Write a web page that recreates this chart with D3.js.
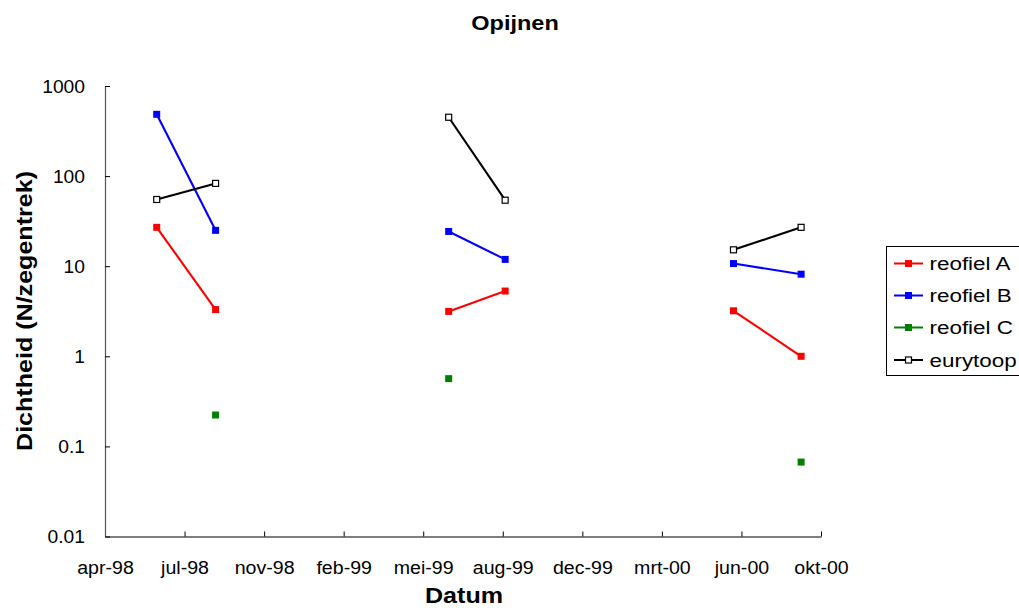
<!DOCTYPE html>
<html>
<head>
<meta charset="utf-8">
<script src="https://cdn.jsdelivr.net/npm/d3@7"></script>
<style>
  html, body { margin: 0; padding: 0; background: #fff; }
  svg { display: block; font-family: "Liberation Sans", Arial, sans-serif; }
</style>
</head>
<body>
<svg id="chart" width="1019" height="608"></svg>
<script>
// Sampling dates (fish survey campaigns) and densities per ecological group
const dates     = ["1998-06-19", "1998-09-01", "1999-06-21", "1999-08-31", "2000-06-13", "2000-09-06"];
const campaigns = [1998, 1998, 1999, 1999, 2000, 2000];
const reofielA  = [27, 3.3, 3.15, 5.3, 3.2, 1.0];
const reofielB  = [485, 25, 24.3, 11.9, 10.7, 8.15];
const reofielC  = [null, 0.223, 0.565, null, null, 0.067];
const eurytoop  = [55, 83, 450, 54, 15.2, 27];

const seriesNames = ["reofiel A", "reofiel B", "reofiel C", "eurytoop"];

// Axis definitions
const xStart = "1998-04-15";   // first tick, ticks every 100 days
const xTickStepDays = 100;
const xTickLabels = ["apr-98", "jul-98", "nov-98", "feb-99", "mei-99", "aug-99", "dec-99", "mrt-00", "jun-00", "okt-00"];
const yTickValues = [0.01, 0.1, 1, 10, 100, 1000];
const yTickLabels = ["0.01", "0.1", "1", "10", "100", "1000"];

const parse = d3.utcParse("%Y-%m-%d");
const svg = d3.select("#chart");

const plotLeft = 105, plotRight = 821, plotTop = 86, plotBottom = 536.5;
const t0 = parse(xStart);
const xTicks = xTickLabels.map((_, i) => d3.utcDay.offset(t0, i * xTickStepDays));

const x = d3.scaleUtc().domain([xTicks[0], xTicks[xTicks.length - 1]]).range([plotLeft, plotRight]);
const y = d3.scaleLog().domain([0.01, 1000]).range([plotBottom, plotTop]);

const styles = [
  { color: "#ff0000", fill: "#ff0000", values: reofielA },
  { color: "#0000ff", fill: "#0000ff", values: reofielB },
  { color: "#008000", fill: "#008000", values: reofielC },
  { color: "#000000", fill: "#ffffff", values: eurytoop }
];

// Title
svg.append("text")
  .attr("transform", "translate(515,23) scale(1.12,1)")
  .attr("text-anchor", "middle").attr("dominant-baseline", "central")
  .attr("font-size", 21).attr("font-weight", "bold").text("Opijnen");

// Axes
const xAxis = d3.axisBottom(x).tickValues(xTicks)
  .tickFormat((d, i) => xTickLabels[i]).tickSize(-5).tickSizeOuter(0).tickPadding(0);
const gx = svg.append("g").attr("transform", `translate(0,${plotBottom})`).call(xAxis);
gx.select(".domain").attr("stroke", "#000").attr("stroke-width", 1.2);
gx.selectAll(".tick line").attr("stroke", "#000");
gx.selectAll(".tick text")
  .attr("y", 0).attr("dy", 0)
  .attr("transform", "translate(0,31) scale(1.12,1)")
  .attr("dominant-baseline", "central")
  .attr("font-size", 17.5).attr("font-family", "Liberation Sans, Arial, sans-serif").attr("fill", "#000");

const yAxis = d3.axisLeft(y).tickValues(yTickValues)
  .tickFormat((d, i) => yTickLabels[i]).tickSize(-5).tickSizeOuter(0).tickPadding(0);
const gy = svg.append("g").attr("transform", `translate(${plotLeft},0)`).call(yAxis);
gy.select(".domain").attr("stroke", "#555").attr("stroke-width", 1.2);
gy.selectAll(".tick line").attr("stroke", "#000");
gy.selectAll(".tick text")
  .attr("x", 0).attr("dy", 0)
  .attr("transform", "translate(-20,0) scale(1.1,1)")
  .attr("dominant-baseline", "central").attr("text-anchor", "end")
  .attr("font-size", 17.5).attr("font-family", "Liberation Sans, Arial, sans-serif").attr("fill", "#000");

// Axis titles
svg.append("text")
  .attr("transform", "translate(464,596) scale(1.14,1)")
  .attr("text-anchor", "middle").attr("dominant-baseline", "central")
  .attr("font-size", 22).attr("font-weight", "bold").text("Datum");
svg.append("text")
  .attr("transform", "translate(25,311) rotate(-90) scale(1.14,1)")
  .attr("text-anchor", "middle").attr("dominant-baseline", "central")
  .attr("font-size", 22).attr("font-weight", "bold").text("Dichtheid (N/zegentrek)");

// Series: lines within each campaign, then markers
const pts = dates.map((d, i) => ({ date: parse(d), campaign: campaigns[i] }));
const line = d3.line().x(d => x(d.date)).y(d => y(d.v));

styles.forEach(s => {
  const data = pts.map((p, i) => ({ ...p, v: s.values[i] })).filter(d => d.v != null);
  d3.groups(data, d => d.campaign).forEach(([, g]) => {
    if (g.length > 1) {
      svg.append("path").datum(g).attr("d", line)
        .attr("fill", "none").attr("stroke", s.color).attr("stroke-width", 2.1);
    }
  });
});
styles.forEach(s => {
  const data = pts.map((p, i) => ({ ...p, v: s.values[i] })).filter(d => d.v != null);
  const open = s.fill === "#ffffff";
  const size = open ? 6 : 7;
  svg.append("g").selectAll("rect").data(data).join("rect")
    .attr("x", d => x(d.date) - size / 2).attr("y", d => y(d.v) - size / 2)
    .attr("width", size).attr("height", size)
    .attr("fill", s.fill)
    .attr("stroke", open ? "#000" : "none").attr("stroke-width", 1.2);
});

// Legend
const lg = svg.append("g");
lg.append("rect").attr("x", 886.5).attr("y", 246.5).attr("width", 140).attr("height", 129)
  .attr("fill", "#fff").attr("stroke", "#000").attr("stroke-width", 1);
const rowY = [263.5, 295.5, 327.5, 360];
seriesNames.forEach((name, i) => {
  const s = styles[i];
  const yy = rowY[i];
  lg.append("line").attr("x1", 894).attr("x2", 923).attr("y1", yy).attr("y2", yy)
    .attr("stroke", s.color).attr("stroke-width", 2);
  const open = s.fill === "#ffffff";
  const size = open ? 6 : 7;
  lg.append("rect").attr("x", 908.5 - size / 2).attr("y", yy - size / 2)
    .attr("width", size).attr("height", size).attr("fill", s.fill)
    .attr("stroke", open ? "#000" : "none").attr("stroke-width", 1.2);
  lg.append("text")
    .attr("transform", `translate(929.5,${yy}) scale(1.18,1)`)
    .attr("dominant-baseline", "central")
    .attr("font-size", 19).text(name);
});
</script>
</body>
</html>
